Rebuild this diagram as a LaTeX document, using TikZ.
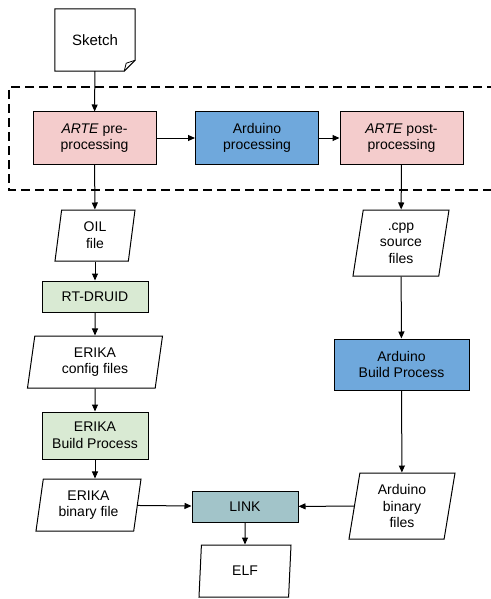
\documentclass[tikz,border=0pt]{standalone}
\usepackage{fontspec}
\setmainfont{Liberation Sans}
\usetikzlibrary{shapes,arrows.meta}
\usepackage{xcolor}
\definecolor{artepink}{HTML}{F4CCCC}
\definecolor{ardblue}{HTML}{6FA8DC}
\definecolor{erikagreen}{HTML}{D9EAD3}
\definecolor{linkteal}{HTML}{A2C4C9}

\begin{document}
\begin{tikzpicture}[
    x = 1pt, y = -1pt,
    font = \fontsize{14}{16.7}\selectfont,
    box/.style     = {draw, line width=1pt, align=center,
      inner sep=0pt, minimum width=123pt, minimum height=52pt},
    arte/.style    = {box, fill=artepink},
    arduino/.style = {box, fill=ardblue},
    erika/.style   = {box, fill=erikagreen, minimum width=106pt},
    linker/.style  = {box, fill=linkteal, minimum width=106pt,
      minimum height=31pt},
    data/.style    = {trapezium, draw, line width=1pt, align=center,
      trapezium left angle=76, trapezium right angle=104,
      trapezium stretches body, inner sep=0pt, minimum height=52pt},
    flow/.style    = {line width=1pt, -{Triangle[length=7pt,width=6pt]}}
  ]
  \useasboundingbox (0,0) rectangle (490,599);

  % phase boundary
  \draw [line width=2pt, dash pattern=on 9pt off 5pt]
    (496,87) -- (9,87) -- (9,190) -- (496,190);

  % sketch document
  \node [minimum width=80pt, minimum height=62pt] (sketch) at (95,40) {};
  \draw [line width=1pt, fill=white] (sketch.north west) -- (sketch.north east)
    -- ([yshift=11pt]sketch.south east) -- ([xshift=-11pt]sketch.south east)
    -- (sketch.south west) -- cycle;
  \draw [line width=0.8pt] ([xshift=-11pt]sketch.south east)
    -- ([xshift=-9pt,yshift=8pt]sketch.south east)
    -- ([yshift=11pt]sketch.south east);
  \node [font=\fontsize{15}{18}\selectfont] (sketchtext) at (sketch) {Sketch};

  % processing chain
  \node [arte] (pre) at (94.5,138) {\textit{ARTE} pre-\\processing};
  \node [arduino] (ardproc) at (257,138) {Arduino\\processing};
  \node [arte] (post) at (401.5,138) {\textit{ARTE} post-\\processing};

  % ERIKA branch
  \node [data, minimum width=80pt, minimum height=51pt] (oil) at (95,235.5) {OIL\\file};
  \node [erika, minimum height=31pt] (druid) at (95,296.5) {RT-DRUID};
  \node [data, minimum width=135pt] (config) at (95,362) {ERIKA\\config files};
  \node [erika, minimum height=47pt] (erikabuild) at (95,435.5) {ERIKA\\Build Process};
  \node [data, minimum width=105pt] (erikabin) at (88.5,505) {ERIKA\\binary file};

  % Arduino branch
  \node [data, minimum width=96pt, minimum height=66pt] (cpp) at (401,243) {.cpp\\source\\files};
  \node [arduino, minimum width=135pt, minimum height=51pt] (ardbuild) at (401.5,364.5) {Arduino\\Build Process};
  \node [data, minimum width=106pt, minimum height=66pt] (ardbin) at (402,506) {Arduino\\binary\\files};

  % linking
  \node [linker] (link) at (245,506.5) {LINK};
  \node [data, minimum width=92pt] (elf) at (245,571) {ELF};

  \draw [flow] (sketch) -- (pre);
  \draw [flow] (pre) -- (ardproc);
  \draw [flow] (ardproc) -- (post);
  \draw [flow] (pre) -- (oil);
  \draw [flow] (oil) -- (druid);
  \draw [flow] (druid) -- (config);
  \draw [flow] (config) -- (erikabuild);
  \draw [flow] (erikabuild.south) -- (erikabuild.south |- erikabin.north);
  \draw [flow] (post) -- (cpp);
  \draw [flow] (cpp) -- (ardbuild);
  \draw [flow] (ardbuild) -- (ardbin);
  \draw [flow] (erikabin) -- (link);
  \draw [flow] (ardbin) -- (link);
  \draw [flow] (link) -- (elf);
\end{tikzpicture}
\end{document}
